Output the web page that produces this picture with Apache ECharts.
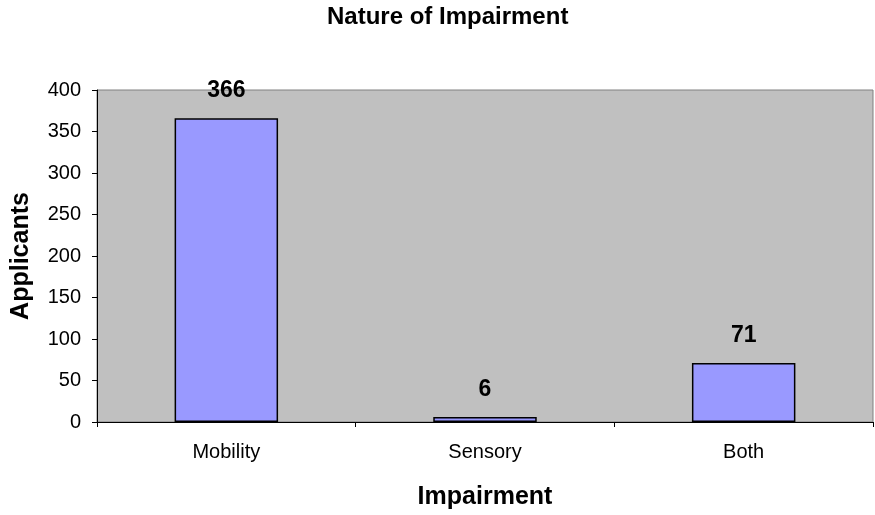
<!DOCTYPE html>
<html>
<head>
<meta charset="utf-8">
<script src="https://cdn.jsdelivr.net/npm/echarts@6/dist/echarts.min.js"></script>
<style>
  html, body { margin: 0; padding: 0; background: #fff; }
  #chart { width: 875px; height: 515px; }
</style>
</head>
<body>
<div id="chart"></div>
<script>
var categories = ['Mobility', 'Sensory', 'Both'];
var applicants = [366, 6, 71];

var chart = echarts.init(document.getElementById('chart'));
chart.setOption({
    animation: false,
    textStyle: { fontFamily: 'Liberation Sans, Arial, sans-serif' },
    title: {
        text: 'Nature of Impairment',
        left: 327,
        top: 5,
        padding: 0,
        textStyle: { fontSize: 24, fontWeight: 'bold', color: '#000' }
    },
    grid: {
        left: 97, right: 2, top: 90, bottom: 91,
        show: true,
        backgroundColor: '#c0c0c0',
        borderColor: '#808080',
        borderWidth: 1
    },
    xAxis: {
        type: 'category',
        data: categories,
        name: 'Impairment',
        nameLocation: 'middle',
        nameGap: 63,
        nameTextStyle: { fontSize: 25, fontWeight: 'bold', color: '#000' },
        axisLine: { lineStyle: { color: '#000', width: 1 } },
        axisTick: { show: true, length: 5, alignWithLabel: false, lineStyle: { color: '#000' } },
        axisLabel: { fontSize: 20, color: '#000', margin: 20 }
    },
    yAxis: {
        type: 'value',
        min: 0,
        max: 400,
        interval: 50,
        name: 'Applicants',
        nameLocation: 'middle',
        nameGap: 63,
        nameTextStyle: { fontSize: 25, fontWeight: 'bold', color: '#000' },
        axisLine: { show: true, lineStyle: { color: '#000', width: 1 } },
        axisTick: { show: true, length: 5, lineStyle: { color: '#000' } },
        axisLabel: { fontSize: 20, color: '#000', margin: 16 },
        splitLine: { show: false }
    },
    series: [{
        type: 'bar',
        data: applicants,
        barWidth: '40%',
        itemStyle: { color: '#9999ff', borderColor: '#000', borderWidth: 1.5 },
        label: {
            show: true,
            position: 'top',
            distance: 16,
            fontSize: 23,
            fontWeight: 'bold',
            color: '#000'
        }
    }]
});
</script>
</body>
</html>
